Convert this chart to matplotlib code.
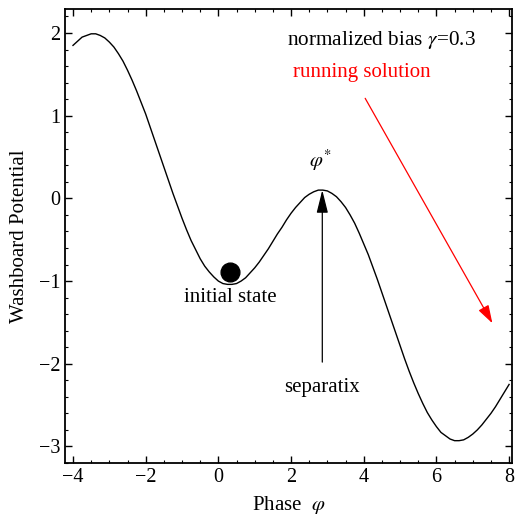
import matplotlib
matplotlib.use("Agg")
import matplotlib.pyplot as plt
from matplotlib.ticker import MultipleLocator

plt.rcParams['font.family'] = ['Liberation Serif', 'DejaVu Serif']
plt.rcParams['mathtext.fontset'] = 'stix'

# washboard potential, phase from -4 to 8 in steps of 0.125
phase = [-4 + 0.125 * i for i in range(97)]
potential = [1.85, 1.90, 1.95, 1.97, 1.99, 1.99, 1.97, 1.94, 1.89, 1.83,
             1.75, 1.66, 1.55, 1.43, 1.30, 1.16, 1.02, 0.86, 0.70, 0.54,
             0.38, 0.22, 0.06, -0.09, -0.24, -0.38, -0.51, -0.62, -0.73, -0.82,
             -0.89, -0.95, -1.00, -1.03, -1.04, -1.04, -1.03, -1.00, -0.96, -0.90,
             -0.84, -0.77, -0.69, -0.61, -0.52, -0.43, -0.35, -0.26, -0.18, -0.11,
             -0.05, 0.01, 0.05, 0.08, 0.10, 0.10, 0.09, 0.06, 0.02, -0.04,
             -0.11, -0.20, -0.30, -0.42, -0.55, -0.68, -0.83, -0.98, -1.14, -1.30,
             -1.46, -1.62, -1.78, -1.94, -2.09, -2.23, -2.36, -2.48, -2.59, -2.68,
             -2.76, -2.83, -2.87, -2.91, -2.93, -2.93, -2.92, -2.89, -2.85, -2.80,
             -2.74, -2.67, -2.60, -2.52, -2.43, -2.34, -2.25]

ball = (0.32, -0.89)
peak = (2.86, 0.10)
bias = 0.3

fig = plt.figure(figsize=(5.18, 5.18), dpi=100)
ax = fig.add_axes([65/518, 1 - 463/518, 447/518, 454/518])

ax.plot(phase, potential, color='black', lw=1.0)
ax.plot(*ball, 'o', color='black', ms=13.5)

ax.text(ball[0], -1.2, 'initial state', ha='center', va='center', fontsize=15)

# separatix arrow up to the barrier top
ax.annotate('', xy=peak, xytext=(peak[0], -1.98),
            arrowprops=dict(arrowstyle='-|>,head_length=1.4,head_width=0.35',
                            color='black', lw=0.9, shrinkA=0, shrinkB=0))
ax.text(peak[0], -2.29, 'separatix', ha='center', va='center', fontsize=15)
ax.text(peak[0] - 0.05, 0.46, r'$\varphi^{*}$', ha='center', va='center', fontsize=15)

ax.text(4.5, 1.92, r'normalized bias $\gamma$=' + str(bias), ha='center', va='center',
        fontsize=15.3)
ax.text(3.96, 1.52, 'running solution', ha='center', va='center', fontsize=15,
        color='red')
ax.annotate('', xy=(7.54, -1.51), xytext=(4.04, 1.21),
            arrowprops=dict(arrowstyle='-|>,head_length=1.1,head_width=0.35',
                            color='red', lw=0.9, shrinkA=0, shrinkB=0))

ax.set_xlim(-4.22, 8.08)
ax.set_ylim(-3.2, 2.29)
ax.xaxis.set_minor_locator(MultipleLocator(0.5))
ax.yaxis.set_minor_locator(MultipleLocator(0.2))
ax.tick_params(which='both', direction='in', top=True, right=True, labelsize=14.5)
ax.tick_params(which='major', length=5, width=1)
ax.tick_params(which='minor', length=2.5, width=0.8)
for s in ax.spines.values():
    s.set_linewidth(1.3)

ax.set_xticks([-4, -2, 0, 2, 4, 6, 8])
ax.set_xticklabels(['\u22124', '\u22122', '0', '2', '4', '6', '8'])
ax.set_yticks([-3, -2, -1, 0, 1, 2])
ax.set_yticklabels(['\u22123', '\u22122', '\u22121', '0', '1', '2'])

ax.set_xlabel(r'Phase  $\varphi$', fontsize=15, labelpad=5)
ax.set_ylabel('Washboard Potential', fontsize=15, labelpad=7)

fig.savefig('out.png', dpi=100)
